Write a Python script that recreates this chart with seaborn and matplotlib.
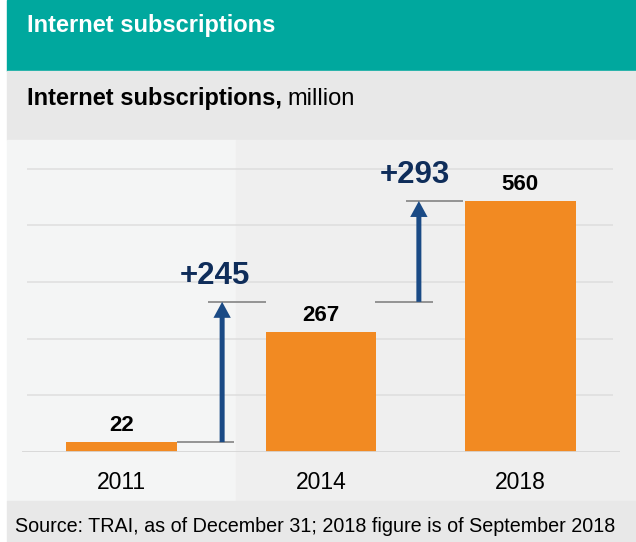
import numpy as np
import pandas as pd
import matplotlib
matplotlib.use('Agg')
import matplotlib.pyplot as plt
import seaborn as sns
from matplotlib.patches import Rectangle

# data
years = ['2011', '2014', '2018']
subscriptions = [22, 267, 560]
increase_labels = ['+245', '+293']
step_level = 335       # where the first arrow ends / second one starts
grid_step = 126.5

sns.set_style('white')
plt.rcParams['font.family'] = ['Liberation Sans', 'DejaVu Sans']

W, H = 636, 542
fig = plt.figure(figsize=(W / 100, H / 100), dpi=100)
fig.patch.set_facecolor('white')


def band(x0, y0, x1, y1, color):
    # rectangle in pixel coords (y from top)
    fig.patches.append(Rectangle((x0 / W, 1 - y1 / H), (x1 - x0) / W, (y1 - y0) / H,
                                 transform=fig.transFigure, color=color, zorder=-5))


band(7, 0, W, 70.5, '#00A89E')
band(7, 70.5, W, 140, '#E8E8E8')
band(7, 140, 236, 500.5, '#F4F5F5')
band(236, 140, W, 500.5, '#EFEFEF')
band(7, 500.5, W, H, '#E8E8E8')

fig.text(27 / W, 1 - 32 / H, 'Internet subscriptions', color='white',
         fontsize=17, fontweight='bold', va='baseline', ha='left')
t1 = fig.text(27 / W, 1 - 105 / H, 'Internet subscriptions,', color='black',
              fontsize=17, fontweight='bold', va='baseline', ha='left')
fig.canvas.draw()
bb = t1.get_window_extent()
fig.text(bb.x1 / W + 5 / W, 1 - 105 / H, 'million', color='black',
         fontsize=17, va='baseline', ha='left')
fig.text(15 / W, 1 - 532 / H, 'Source: TRAI, as of December 31; 2018 figure is of September 2018',
         color='black', fontsize=14.2, va='baseline', ha='left')

# chart axes: baseline at y=452px, 0.448 px per million
px_per_unit = 251 / 560
ax_top, ax_base = 150, 452
ax = fig.add_axes([22 / W, 1 - ax_base / H, 598 / W, (ax_base - ax_top) / H])
ax.set_zorder(3)
ax.patch.set_alpha(0)

df = pd.DataFrame({'year': years, 'subs': subscriptions})
sns.barplot(data=df, x='year', y='subs', color='#F28A22', width=0.556,
            saturation=1, linewidth=0, ax=ax, zorder=3)

ax.set_xlim(-0.5, 2.5)
ax.set_ylim(0, (ax_base - ax_top) / px_per_unit)

# gridlines
for k in range(1, 6):
    ax.hlines(k * grid_step, -0.475, 2.465, color='#DEDEDE', lw=1.1, zorder=1)
ax.axhline(0, color='#D6D6D6', lw=2, zorder=4)

for s in ax.spines.values():
    s.set_visible(False)
ax.set_yticks([])
ax.set_xlabel('')
ax.set_ylabel('')
ax.tick_params(axis='x', length=0, labelsize=16.5, pad=14, labelcolor='black')

# value labels
for i, v in enumerate(subscriptions):
    ax.annotate(str(v), (i, v), xytext=(0, 8), textcoords='offset points',
                ha='center', va='baseline', fontsize=16, fontweight='bold',
                color='black', zorder=5)

# increase arrows with connector lines
arrows = [
    dict(x=0.504, y0=subscriptions[0], y1=step_level,
         low=(0.278, 0.564), high=(0.434, 0.724), lx=0.47),
    dict(x=1.491, y0=step_level, y1=subscriptions[2],
         low=(1.271, 1.562), high=(1.426, 1.712), lx=1.47),
]
for a, lab in zip(arrows, increase_labels):
    ax.hlines(a['y0'], *a['low'], color='#8C8C8C', lw=1.3, zorder=4)
    ax.hlines(a['y1'], *a['high'], color='#8C8C8C', lw=1.3, zorder=4)
    ax.annotate('', xy=(a['x'], a['y1']), xytext=(a['x'], a['y0']),
                arrowprops=dict(arrowstyle='simple,head_length=11.5,head_width=12.5,tail_width=3.6',
                                mutation_scale=1, color='#1A4A85', lw=0,
                                shrinkA=0, shrinkB=0), zorder=5)
    ax.annotate(lab, (a['lx'], a['y1']), xytext=(0, 13), textcoords='offset points',
                ha='center', va='baseline', fontsize=22.5, fontweight='bold',
                color='#0F2D5A', zorder=5)

fig.savefig('out.png', dpi=100)
